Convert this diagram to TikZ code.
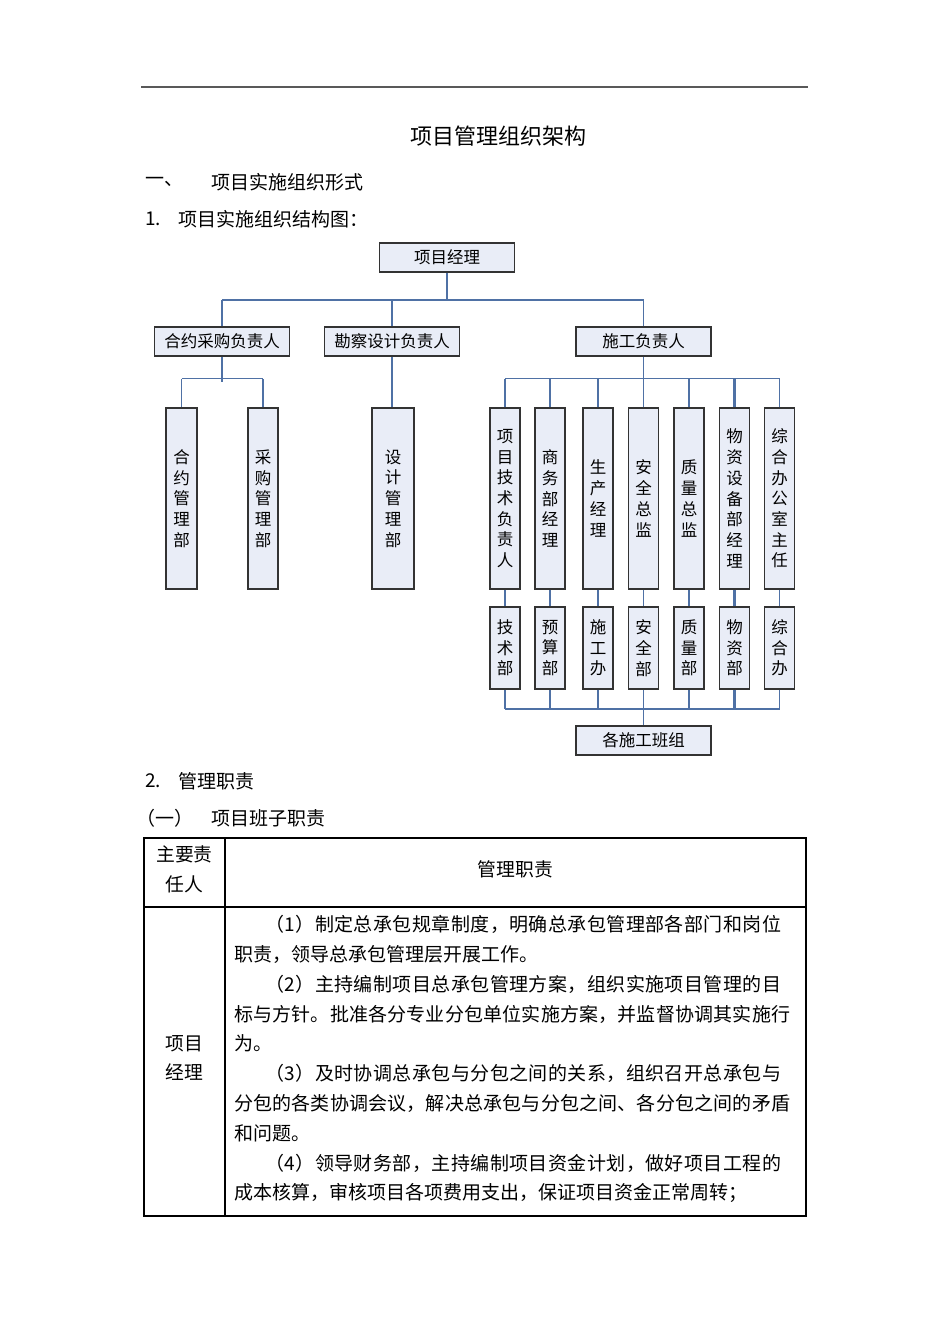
\documentclass[tikz,border=0pt]{standalone}
\usepackage{fontspec}
\setmainfont{Noto Sans CJK SC}
\definecolor{conn}{RGB}{79,113,165}
\definecolor{boxfill}{RGB}{233,237,247}
\def\myspr#1{\ifx\relax#1\unskip\else#1\hskip0pt plus 1fil\expandafter\myspr\fi}
\newcommand\jline[2]{\hbox to #1{\myspr#2\relax}}
\tikzset{
  orgbox/.style={draw=black!80, line width=1.3pt, fill=boxfill, inner sep=0pt,
    font=\fontsize{16.5}{20.7}\selectfont},
  hnode/.style={orgbox, minimum width=135pt, minimum height=29pt},
  vnode/.style={orgbox, minimum width=30pt, minimum height=181pt, align=center},
  snode/.style={orgbox, minimum width=30pt, minimum height=82pt, align=center},
  thickc/.style={draw=conn, line width=2.6pt},
  thinc/.style={draw=conn, line width=1.3pt},
  txt/.style={inner sep=0pt, anchor=west, font=\fontsize{19}{30}\selectfont},
  ctxt/.style={inner sep=0pt, font=\fontsize{18.8}{29.5}\selectfont, align=center},
}
\begin{document}
\begin{tikzpicture}[x=1pt,y=-1pt]
\useasboundingbox (0,0) rectangle (950,1344);
% top rule
\draw[line width=2pt, black!65] (141,87) -- (808,87);
% headings
\node[inner sep=0pt, font=\fontsize{22}{26}\selectfont] (title) at (498,136) {项目管理组织架构};
\node[txt] (h1a) at (145,182) {一、};
\node[txt] (h1b) at (211,182) {项目实施组织形式};
\node[txt] (h2a) at (145,219) {1.};
\node[txt] (h2b) at (178,219) {项目实施组织结构图：};

% chart nodes
\node[hnode] (pm) at (447,257.5) {项目经理};
\node[hnode] (hy) at (222,341.5) {合约采购负责人};
\node[hnode] (kc) at (392,341.5) {勘察设计负责人};
\node[hnode] (sg) at (643.5,341.5) {施工负责人};

\node[vnode, minimum width=31pt] (hm) at (181.5,498.5) {合\\约\\管\\理\\部};
\node[vnode] (cg) at (263,498.5) {采\\购\\管\\理\\部};
\node[vnode, minimum width=42pt] (sj) at (393,498.5) {设\\计\\管\\理\\部};

\node[vnode] (t1) at (505,498.5) {项\\目\\技\\术\\负\\责\\人};
\node[vnode] (t2) at (550,498.5) {商\\务\\部\\经\\理};
\node[vnode] (t3) at (598,498.5) {生\\产\\经\\理};
\node[vnode] (t4) at (643.5,498.5) {安\\全\\总\\监};
\node[vnode] (t5) at (689,498.5) {质\\量\\总\\监};
\node[vnode] (t6) at (734.5,498.5) {物\\资\\设\\备\\部\\经\\理};
\node[vnode] (t7) at (779.5,498.5) {综\\合\\办\\公\\室\\主\\任};

\node[snode] (s1) at (505,648) {技\\术\\部};
\node[snode] (s2) at (550,648) {预\\算\\部};
\node[snode] (s3) at (598,648) {施\\工\\办};
\node[snode] (s4) at (643.5,648) {安\\全\\部};
\node[snode] (s5) at (689,648) {质\\量\\部};
\node[snode] (s6) at (734.5,648) {物\\资\\部};
\node[snode] (s7) at (779.5,648) {综\\合\\办};

\node[hnode] (bz) at (643.5,740.5) {各施工班组};

% bus coordinates
\coordinate (bus1) at (0,300);
\coordinate (bus2) at (0,378.5);
\coordinate (bus2b) at (0,382);
\coordinate (bus3) at (0,709);

% level 1
\draw[thinc] (pm.south) -- (pm.south |- bus1);
\draw[thickc] (hy.north |- bus1) -- (sg.north |- bus1);
\draw[thickc] (hy.north) -- (hy.north |- bus1);
\draw[thickc] (kc.north) -- (kc.north |- bus1);
\draw[thinc] (sg.north) -- (sg.north |- bus1);
% left branch
\draw[thickc] (hy.south) -- (hy.south |- bus2b);
\draw[thinc] (hm.north |- bus2) -- (cg.north |- bus2);
\draw[thinc] (hm.north) -- (hm.north |- bus2);
\draw[thickc] (cg.north) -- (cg.north |- bus2);
% middle branch
\draw[thickc] (kc.south) -- (kc.south |- sj.north);
% right branch
\draw[thinc] (sg.south) -- (sg.south |- bus2);
\draw[thinc] (t1.north |- bus2) -- (t7.north |- bus2);
\foreach \n/\s in {t1/thickc,t2/thinc,t3/thickc,t4/thinc,t5/thinc,t6/thickc,t7/thinc}{
  \draw[\s] (\n.north) -- (\n.north |- bus2);
}
\foreach \a/\b/\s in {t1/s1/thickc,t2/s2/thinc,t3/s3/thickc,t4/s4/thinc,t5/s5/thinc,t6/s6/thickc,t7/s7/thinc}{
  \draw[\s] (\a.south) -- (\b.north);
  \draw[\s] (\b.south) -- (\b.south |- bus3);
}
\draw[thinc] (s1.south |- bus3) -- (s7.south |- bus3);
\draw[thinc] (bz.north |- bus3) -- (bz.north);

% section 2
\node[txt] (h3a) at (145,781) {2.};
\node[txt] (h3b) at (178,781) {管理职责};
\node[txt] (h4a) at (136,818) {（一）};
\node[txt] (h4b) at (211,818) {项目班子职责};

% table
\draw[line width=1.2pt] (144,838) rectangle (806,1216);
\draw[line width=1.2pt] (225,838) -- (225,1216);
\draw[line width=1.2pt] (144,907) -- (806,907);
\node[ctxt] (c11) at (184.5,869.5) {主要责\\任人};
\node[ctxt] (c12) at (515.5,869.5) {管理职责};
\node[ctxt] (c21) at (184.5,1058) {项目\\经理};

\node[txt] (l1) at (265,924) {\jline{516pt}{（1）制定总承包规章制度，明确总承包管理部各部门和岗位}};
\node[txt] (l2) at (234,954) {职责，领导总承包管理层开展工作。};
\node[txt] (l3) at (265,984) {\jline{516pt}{（2）主持编制项目总承包管理方案，组织实施项目管理的目}};
\node[txt] (l4) at (234,1014) {\jline{556pt}{标与方针。批准各分专业分包单位实施方案，并监督协调其实施行}};
\node[txt] (l5) at (234,1043.5) {为。};
\node[txt] (l6) at (265,1073.5) {\jline{516pt}{（3）及时协调总承包与分包之间的关系，组织召开总承包与}};
\node[txt] (l7) at (234,1103.5) {\jline{556pt}{分包的各类协调会议，解决总承包与分包之间、各分包之间的矛盾}};
\node[txt] (l8) at (234,1133.5) {和问题。};
\node[txt] (l9) at (265,1163) {\jline{516pt}{（4）领导财务部，主持编制项目资金计划，做好项目工程的}};
\node[txt] (l10) at (234,1193) {成本核算，审核项目各项费用支出，保证项目资金正常周转；};
\end{tikzpicture}
\end{document}
